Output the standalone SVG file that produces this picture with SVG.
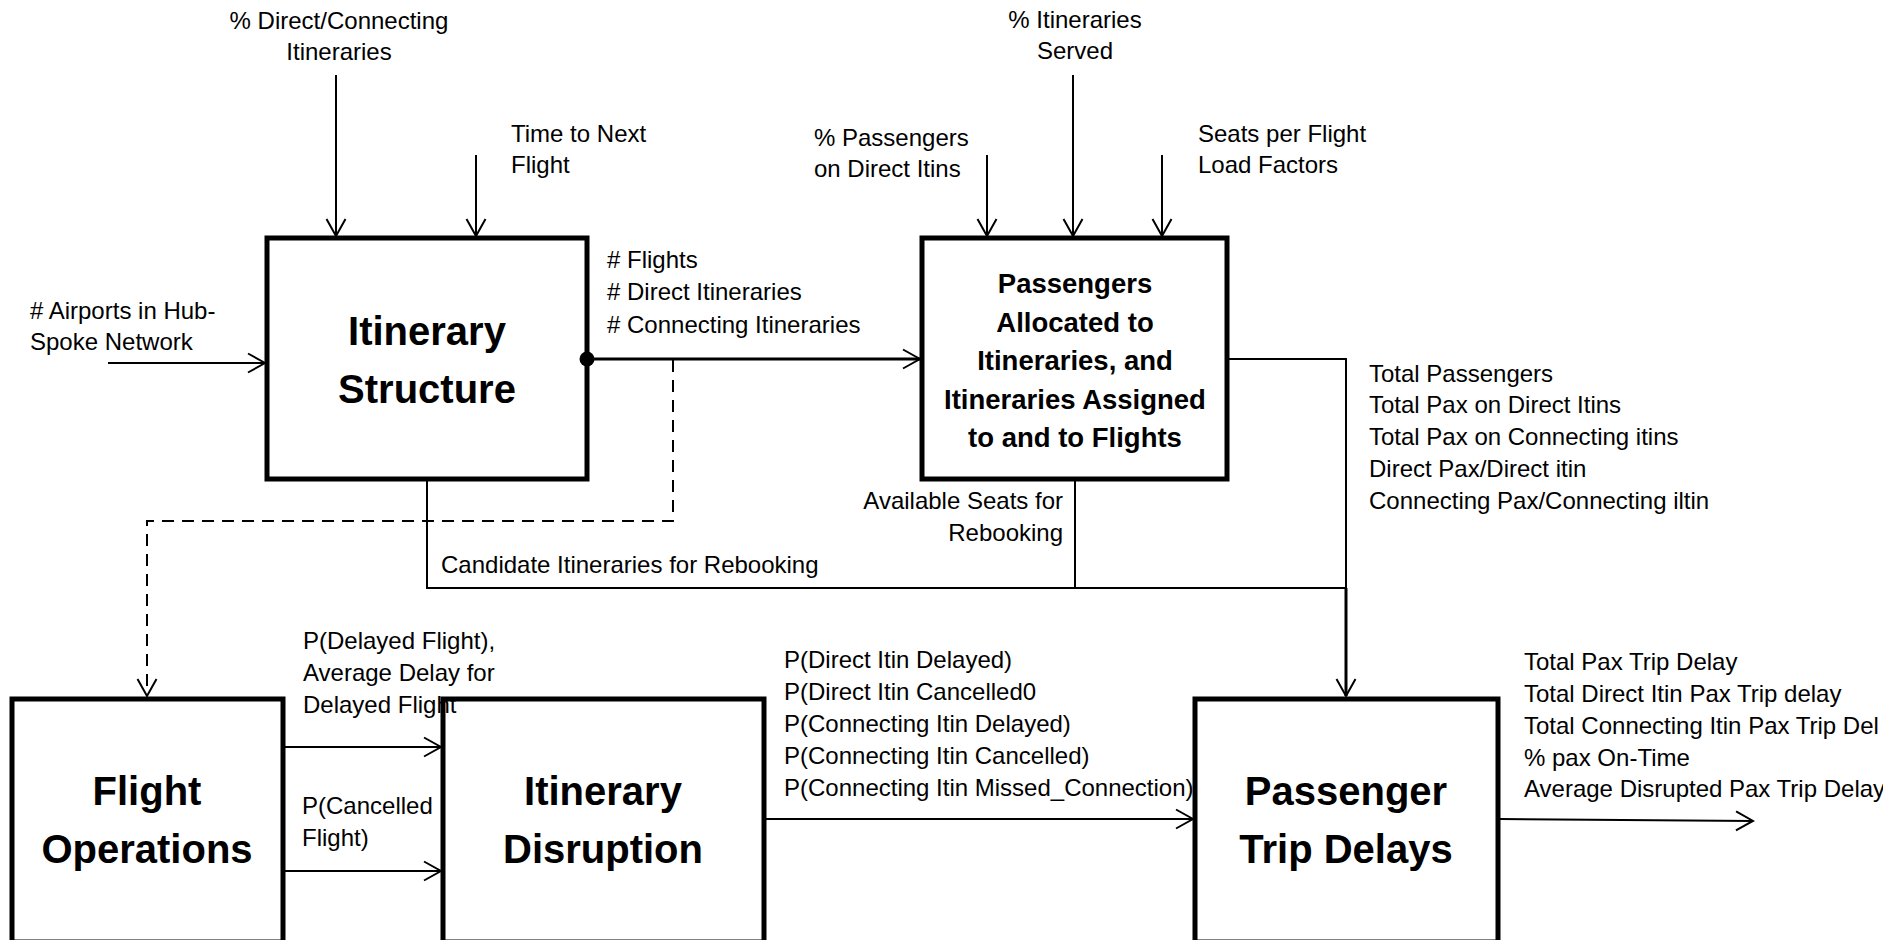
<svg xmlns="http://www.w3.org/2000/svg" width="1883" height="940" viewBox="0 0 1883 940">
  <style>
    .box { fill: #ffffff; stroke: #000000; stroke-width: 5; }
    .lbl { font-family: "Liberation Sans", Arial, sans-serif; font-size: 24px; fill: #000000; }
    .title { font-family: "Liberation Sans", Arial, sans-serif; font-weight: bold; font-size: 40px; fill: #000000; text-anchor: middle; }
    .title-sm { font-family: "Liberation Sans", Arial, sans-serif; font-weight: bold; font-size: 27.5px; fill: #000000; text-anchor: middle; }
    .mid { text-anchor: middle; }
    .end { text-anchor: end; }
    .wire { fill: none; stroke: #000000; stroke-width: 2; }
    .wire-thick { fill: none; stroke: #000000; stroke-width: 3; }
    .dash { fill: none; stroke: #000000; stroke-width: 2; stroke-dasharray: 12 8; }
    .arrow { marker-end: url(#open-arrow); }
  </style>
  <defs>
    <marker id="open-arrow" markerUnits="userSpaceOnUse" viewBox="-19 -11 21 22" markerWidth="21" markerHeight="22" refX="0" refY="0" orient="auto">
      <path d="M -17 -9.5 L 0 0 L -17 9.5" fill="none" stroke="#000000" stroke-width="2"/>
    </marker>
  </defs>

  <rect width="1883" height="940" fill="#ffffff"/>

  <!-- nodes -->
  <g id="itinerary-structure">
    <rect class="box" x="267" y="238" width="320" height="241"/>
    <text class="title" x="427" y="345">Itinerary</text>
    <text class="title" x="427" y="403">Structure</text>
  </g>

  <g id="passenger-allocation">
    <rect class="box" x="922" y="238" width="305" height="241"/>
    <text class="title-sm" x="1075" y="293">Passengers</text>
    <text class="title-sm" x="1075" y="331.5">Allocated to</text>
    <text class="title-sm" x="1075" y="370">Itineraries, and</text>
    <text class="title-sm" x="1075" y="408.5">Itineraries Assigned</text>
    <text class="title-sm" x="1075" y="447">to and to Flights</text>
  </g>

  <g id="flight-operations">
    <rect class="box" x="12" y="699" width="271" height="243"/>
    <text class="title" x="147" y="805">Flight</text>
    <text class="title" x="147" y="863">Operations</text>
  </g>

  <g id="itinerary-disruption">
    <rect class="box" x="443" y="699" width="321" height="243"/>
    <text class="title" x="603" y="805">Itinerary</text>
    <text class="title" x="603" y="863">Disruption</text>
  </g>

  <g id="passenger-trip-delays">
    <rect class="box" x="1195" y="699" width="303" height="243"/>
    <text class="title" x="1346" y="805">Passenger</text>
    <text class="title" x="1346" y="863">Trip Delays</text>
  </g>

  <!-- connectors -->
  <g id="connectors">
    <!-- inputs from above -->
    <line class="wire arrow" x1="336" y1="75" x2="336" y2="236"/>
    <line class="wire arrow" x1="476" y1="155" x2="476" y2="236"/>
    <line class="wire arrow" x1="987" y1="155" x2="987" y2="236"/>
    <line class="wire arrow" x1="1073" y1="75" x2="1073" y2="236"/>
    <line class="wire arrow" x1="1162" y1="155" x2="1162" y2="236"/>
    <!-- airports input -->
    <line class="wire arrow" x1="108" y1="363" x2="265" y2="363"/>
    <!-- structure to allocation -->
    <line class="wire-thick arrow" x1="587" y1="359" x2="920" y2="359"/>
    <!-- dashed feed to flight operations -->
    <path class="dash arrow" d="M 594 359 H 673 V 521 H 147 V 696"/>
    <circle cx="587" cy="359" r="7.5" fill="#000000"/>
    <!-- rebooking feeds -->
    <path class="wire" d="M 427 481 V 588 H 1346"/>
    <path class="wire" d="M 1075 481 V 588"/>
    <path class="wire" d="M 1229 359 H 1346 V 588"/>
    <line class="wire-thick arrow" x1="1346" y1="588" x2="1346" y2="696"/>
    <!-- flight ops to disruption -->
    <line class="wire arrow" x1="285" y1="747" x2="441" y2="747"/>
    <line class="wire arrow" x1="285" y1="871" x2="441" y2="871"/>
    <!-- disruption to trip delays -->
    <line class="wire arrow" x1="766" y1="819" x2="1193" y2="819"/>
    <!-- final output -->
    <line class="wire arrow" x1="1500" y1="819" x2="1753" y2="821"/>
  </g>

  <!-- connector labels -->
  <g id="labels">
    <text class="lbl mid" x="339" y="29">% Direct/Connecting</text>
    <text class="lbl mid" x="339" y="60">Itineraries</text>
    <text class="lbl" x="511" y="142">Time to Next</text>
    <text class="lbl" x="511" y="173">Flight</text>
    <text class="lbl" x="814" y="146">% Passengers</text>
    <text class="lbl" x="814" y="177">on Direct Itins</text>
    <text class="lbl mid" x="1075" y="28">% Itineraries</text>
    <text class="lbl mid" x="1075" y="59">Served</text>
    <text class="lbl" x="1198" y="142">Seats per Flight</text>
    <text class="lbl" x="1198" y="173">Load Factors</text>

    <text class="lbl" x="30" y="319"># Airports in Hub-</text>
    <text class="lbl" x="30" y="350">Spoke Network</text>

    <text class="lbl" x="607" y="268"># Flights</text>
    <text class="lbl" x="607" y="300"># Direct Itineraries</text>
    <text class="lbl" x="607" y="333"># Connecting Itineraries</text>

    <text class="lbl" x="1369" y="382">Total Passengers</text>
    <text class="lbl" x="1369" y="413">Total Pax on Direct Itins</text>
    <text class="lbl" x="1369" y="445">Total Pax on Connecting itins</text>
    <text class="lbl" x="1369" y="477">Direct Pax/Direct itin</text>
    <text class="lbl" x="1369" y="509">Connecting Pax/Connecting iltin</text>

    <text class="lbl end" x="1063" y="509">Available Seats for</text>
    <text class="lbl end" x="1063" y="541">Rebooking</text>
    <text class="lbl" x="441" y="573">Candidate Itineraries for Rebooking</text>

    <text class="lbl" x="303" y="649">P(Delayed Flight),</text>
    <text class="lbl" x="303" y="681">Average Delay for</text>
    <text class="lbl" x="303" y="713">Delayed Flight</text>
    <text class="lbl" x="302" y="814">P(Cancelled</text>
    <text class="lbl" x="302" y="846">Flight)</text>

    <text class="lbl" x="784" y="668">P(Direct Itin Delayed)</text>
    <text class="lbl" x="784" y="700">P(Direct Itin Cancelled0</text>
    <text class="lbl" x="784" y="732">P(Connecting Itin Delayed)</text>
    <text class="lbl" x="784" y="764">P(Connecting Itin Cancelled)</text>
    <text class="lbl" x="784" y="796">P(Connecting Itin Missed_Connection)</text>

    <text class="lbl" x="1524" y="670">Total Pax Trip Delay</text>
    <text class="lbl" x="1524" y="702">Total Direct Itin Pax Trip delay</text>
    <text class="lbl" x="1524" y="734">Total Connecting Itin Pax Trip Del</text>
    <text class="lbl" x="1524" y="766">% pax On-Time</text>
    <text class="lbl" x="1524" y="797">Average Disrupted Pax Trip Delay</text>
  </g>
</svg>
